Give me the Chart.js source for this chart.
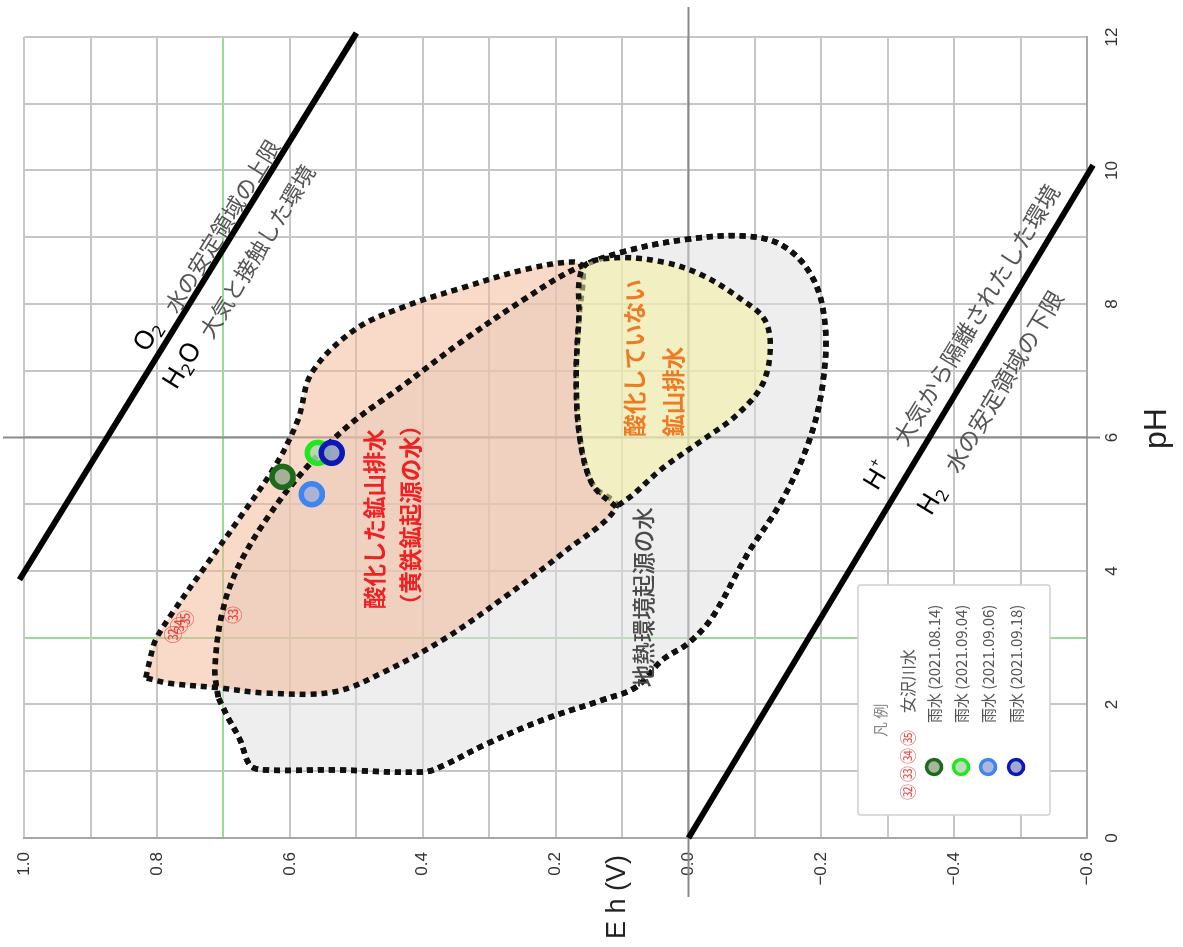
<!DOCTYPE html>
<html>
<head>
<meta charset="utf-8">
<script src="https://cdn.jsdelivr.net/npm/chart.js@4.4.1/dist/chart.umd.min.js"></script>
<style>
  html, body { margin: 0; padding: 0; width: 1183px; height: 947px; overflow: hidden; background: #fff; }
  /* The diagram is laid out in portrait (pH across, Eh up) and turned a quarter turn counter-clockwise */
  #wrap { position: absolute; left: 0; top: 0; width: 947px; height: 1183px;
          transform-origin: 0 0; transform: translate(0, 947px) rotate(-90deg); }
</style>
</head>
<body>
<div id="wrap"><canvas id="c" width="947" height="1183"></canvas></div>
<script>
// ---- axes ----
const phTickValues = [0, 2, 4, 6, 8, 10, 12];
const phTickLabels = ['0', '2', '4', '6', '8', '10', '12'];
const ehTickValues = [1.0, 0.8, 0.6, 0.4, 0.2, 0.0, -0.2, -0.4, -0.6];
const ehTickLabels = ['1.0', '0.8', '0.6', '0.4', '0.2', '0.0', '\u22120.2', '\u22120.4', '\u22120.6'];

// ---- stability limits of water ----
const o2LinePH = [3.87, 12.06];
const o2LineEh = [1.007, 0.500];
const h2LinePH = [0.0, 10.08];
const h2LineEh = [0.0, -0.609];

// ---- fields (closed outlines) ----
// 酸化した鉱山排水（黄鉄鉱起源の水）
const acidPH = [2.40, 2.70, 2.97, 3.37, 4.06, 4.76, 5.56, 6.26, 6.97, 7.61, 7.96, 8.25, 8.51, 8.63, 8.54, 7.76, 6.86, 5.96, 5.29, 4.96, 4.27, 3.60, 2.98, 2.49, 2.19, 2.17, 2.25, 2.32, 2.40];
const acidEh = [0.817, 0.810, 0.802, 0.777, 0.728, 0.678, 0.623, 0.588, 0.567, 0.503, 0.428, 0.338, 0.249, 0.174, 0.159, 0.165, 0.169, 0.163, 0.144, 0.109, 0.189, 0.278, 0.368, 0.458, 0.533, 0.633, 0.708, 0.783, 0.817];
// 地熱環境起源の水
const geoPH = [2.11, 2.52, 3.37, 4.06, 4.81, 5.47, 6.16, 6.79, 7.46, 8.06, 8.51, 8.78, 8.96, 9.02, 8.88, 8.43, 7.76, 6.86, 5.96, 5.06, 4.24, 3.31, 2.92, 2.67, 2.26, 2.07, 1.77, 1.39, 1.09, 0.99, 1.02, 1.02, 1.09, 1.47, 1.84, 2.11];
const geoEh = [0.708, 0.713, 0.702, 0.678, 0.633, 0.582, 0.514, 0.428, 0.338, 0.249, 0.174, 0.099, 0.009, -0.081, -0.141, -0.185, -0.205, -0.203, -0.182, -0.141, -0.088, -0.036, 0.000, 0.039, 0.079, 0.129, 0.219, 0.308, 0.368, 0.398, 0.533, 0.638, 0.660, 0.675, 0.695, 0.708];
// 酸化していない鉱山排水
const neutralPH = [4.96, 5.29, 5.96, 6.86, 7.76, 8.54, 8.69, 8.63, 8.43, 8.06, 7.76, 7.31, 6.79, 6.34, 5.96, 5.54, 5.14, 4.96];
const neutralEh = [0.109, 0.144, 0.163, 0.169, 0.165, 0.159, 0.114, 0.039, -0.021, -0.081, -0.115, -0.123, -0.111, -0.073, -0.021, 0.039, 0.084, 0.109];

// ---- samples ----
const rainLabels = ['雨水 (2021.08.14)', '雨水 (2021.09.04)', '雨水 (2021.09.06)', '雨水 (2021.09.18)'];
const rainPH = [5.41, 5.77, 5.15, 5.77];
const rainEh = [0.611, 0.558, 0.567, 0.537];

const riverLabel = '女沢川水';
const riverMarks = ['㉜', '㉞', '㉟', '㉝'];
const riverPH = [3.05, 3.18, 3.28, 3.34];
const riverEh = [0.776, 0.766, 0.757, 0.686];
const riverLegendMarks = ['㉜', '㉝', '㉞', '㉟'];

// ---- styling ----
const rainBorder = ['#1d6a1d', '#22e622', '#3d86f2', '#0c18b4'];
const rainFill = ['rgba(150,170,140,0.85)', 'rgba(175,215,170,0.85)', 'rgba(165,175,215,0.9)', 'rgba(150,160,200,0.9)'];
const JP = "'Noto Sans CJK JP', 'Noto Sans', sans-serif";
const LAT = "'Liberation Sans', Arial, sans-serif";

const pts = (xs, ys) => xs.map((v, i) => ({ x: v, y: ys[i] }));

function fieldDataset(xs, ys, fill, order) {
  return {
    data: pts(xs, ys), fill: fill ? 'shape' : false, backgroundColor: fill || 'transparent',
    borderColor: '#111', borderWidth: 5.5, borderDash: [6, 5], borderCapStyle: 'butt',
    tension: 0.35, pointRadius: 0, order: order
  };
}

const datasets = [
  fieldDataset(geoPH, geoEh, 'rgba(222,222,222,0.5)', 40),
  fieldDataset(acidPH, acidEh, 'rgba(244,180,144,0.5)', 30),
  fieldDataset(geoPH, geoEh, null, 25),          // outline of the geothermal field kept visible over the acid field
  fieldDataset(neutralPH, neutralEh, 'rgba(246,241,160,0.55)', 20),
  { data: pts(o2LinePH, o2LineEh), borderColor: '#000', borderWidth: 6, pointRadius: 0, fill: false, clip: false, order: 10 },
  { data: pts(h2LinePH, h2LineEh), borderColor: '#000', borderWidth: 6, pointRadius: 0, fill: false, clip: false, order: 10 }
];
rainPH.forEach((p, i) => {
  datasets.push({
    label: rainLabels[i], data: [{ x: p, y: rainEh[i] }], showLine: false,
    pointRadius: 10.5, pointBorderWidth: 5.5, pointBackgroundColor: rainFill[i],
    pointBorderColor: rainBorder[i], order: 4 - i
  });
});

const GRID = '#c6c6c6', GREEN = '#97dc97';

// text placed along the two water lines
const lineNotes = [
  { line: 'o2', ph: 7.18, off: 18,  parts: [['O', 26], ['2', 17, 7]], color: '#000' },
  { line: 'o2', ph: 7.80, off: 13,  parts: [['水の安定領域の上限', 22]], color: '#555' },
  { line: 'o2', ph: 6.97, off: -27, parts: [['H', 26], ['2', 17, 7], ['O', 26]], color: '#000' },
  { line: 'o2', ph: 7.76, off: -30, parts: [['大気と接触した環境', 22]], color: '#555' },
  { line: 'h2', ph: 5.06, off: 24,  parts: [['H', 26], ['+', 15, -9]], color: '#000' },
  { line: 'h2', ph: 5.74, off: 23,  parts: [['大気から隔離されたした環境', 23]], color: '#555' },
  { line: 'h2', ph: 5.14, off: -35, parts: [['H', 26], ['2', 17, 7]], color: '#000' },
  { line: 'h2', ph: 5.78, off: -35, parts: [['水の安定領域の下限', 23]], color: '#555' }
];

// field captions: [text, pH, Eh, align, colour]
const fieldNotes = [
  ['酸化した鉱山排水', 4.78, 0.473, 'center', '#ee2222'],
  ['（黄鉄鉱起源の水）', 4.84, 0.418, 'center', '#ee2222'],
  ['酸化していない', 6.01, 0.082, 'left', '#ee7a22'],
  ['鉱山排水', 6.01, 0.023, 'left', '#ee7a22'],
  ['地熱環境起源の水', 2.26, 0.067, 'left', '#4a4a4a']
];

function drawParts(ctx, parts, x, y, family) {
  let cx = x;
  parts.forEach(([t, size, dy]) => {
    ctx.font = size + 'px ' + family;
    ctx.fillText(t, cx, y + (dy || 0));
    cx += ctx.measureText(t).width;
  });
}

const overlay = {
  id: 'overlay',
  beforeDatasetsDraw(chart) {
    const { ctx, scales: { x, y } } = chart;
    ctx.save();
    ctx.strokeStyle = '#8a8a8a';
    ctx.lineWidth = 2;
    const px = x.getPixelForValue(6);
    ctx.beginPath(); ctx.moveTo(px, 3); ctx.lineTo(px, 1100); ctx.stroke();
    const py = y.getPixelForValue(0);
    ctx.beginPath(); ctx.moveTo(50, py); ctx.lineTo(940, py); ctx.stroke();
    ctx.restore();
  },
  afterDatasetsDraw(chart) {
    const { ctx, scales: { x, y } } = chart;
    ctx.save();

    // river samples (stamped numbers)
    ctx.textAlign = 'center';
    ctx.textBaseline = 'middle';
    ctx.fillStyle = 'rgba(228,50,50,0.85)';
    ctx.font = '18px ' + JP;
    riverMarks.forEach((m, i) => ctx.fillText(m, x.getPixelForValue(riverPH[i]), y.getPixelForValue(riverEh[i])));

    // field captions
    fieldNotes.forEach(([t, p, e, al, col]) => {
      ctx.textAlign = al;
      ctx.fillStyle = col;
      ctx.font = (col === '#4a4a4a' ? '500 ' : 'bold ') + '22.5px ' + JP;
      ctx.fillText(t, x.getPixelForValue(p), y.getPixelForValue(e));
    });

    // notes along the water lines
    const lines = { o2: [o2LinePH, o2LineEh], h2: [h2LinePH, h2LineEh] };
    lineNotes.forEach(n => {
      const [ps, es] = lines[n.line];
      const x1 = x.getPixelForValue(ps[0]), y1 = y.getPixelForValue(es[0]);
      const x2 = x.getPixelForValue(ps[1]), y2 = y.getPixelForValue(es[1]);
      const ang = Math.atan2(y2 - y1, x2 - x1);
      const t = (n.ph - ps[0]) / (ps[1] - ps[0]);
      const bx = x1 + (x2 - x1) * t, by = y1 + (y2 - y1) * t;
      ctx.save();
      ctx.translate(bx + Math.sin(ang) * n.off, by - Math.cos(ang) * n.off);
      ctx.rotate(ang);
      ctx.textAlign = 'left';
      ctx.textBaseline = 'middle';
      ctx.fillStyle = n.color;
      drawParts(ctx, n.parts, 0, 0, n.color === '#000' ? "'Noto Sans', sans-serif" : JP);
      ctx.restore();
    });
    ctx.restore();
  },
  afterDraw(chart) {
    const { ctx, chartArea: a } = chart;
    ctx.save();

    // axis titles
    ctx.fillStyle = '#222';
    ctx.textAlign = 'center';
    ctx.textBaseline = 'middle';
    ctx.font = '32px ' + LAT;
    ctx.fillText('pH', (a.left + a.right) / 2 + 9, 1157);
    ctx.font = '27px ' + LAT;
    ctx.fillText('E h (V)', 50, 618);

    // legend box
    const L = a.left + 23, T = a.bottom - 229, W = 230, H = 192;
    ctx.fillStyle = '#fff';
    ctx.strokeStyle = '#cfcfcf';
    ctx.lineWidth = 1.5;
    ctx.beginPath();
    ctx.roundRect(L, T, W, H, 3);
    ctx.fill(); ctx.stroke();

    ctx.textAlign = 'left';
    ctx.fillStyle = '#888';
    ctx.font = '15px ' + JP;
    ctx.fillText('凡 例', L + 78, T + 22);

    ctx.textAlign = 'center';
    ctx.fillStyle = 'rgba(228,50,50,0.85)';
    ctx.font = '16px ' + JP;
    riverLegendMarks.forEach((m, i) => ctx.fillText(m, L + 23 + i * 18, T + 50));
    ctx.textAlign = 'left';
    ctx.fillStyle = '#555';
    ctx.font = '16px ' + JP;
    ctx.fillText(riverLabel, L + 102, T + 50);

    const rows = [T + 76, T + 103, T + 130, T + 158];
    rainLabels.forEach((lab, i) => {
      ctx.beginPath();
      ctx.arc(L + 48, rows[i], 7.5, 0, Math.PI * 2);
      ctx.fillStyle = rainFill[i];
      ctx.fill();
      ctx.lineWidth = 3.5;
      ctx.strokeStyle = rainBorder[i];
      ctx.stroke();
      ctx.fillStyle = '#555';
      ctx.font = '15px ' + JP;
      ctx.fillText(lab, L + 92, rows[i]);
    });
    ctx.restore();
  }
};

new Chart(document.getElementById('c'), {
  type: 'line',
  data: { datasets },
  options: {
    responsive: false,
    devicePixelRatio: 1,
    animation: false,
    layout: { padding: { top: 18, right: 37, left: 0, bottom: 0 } },
    plugins: { legend: { display: false }, tooltip: { enabled: false } },
    scales: {
      x: {
        type: 'linear', position: 'bottom', min: 0, max: 12,
        afterFit: s => { s.height = 96; },
        ticks: {
          stepSize: 1, autoSkip: false, maxRotation: 0, padding: 15,
          color: '#333', font: { size: 17, family: LAT },
          callback: v => { const k = phTickValues.indexOf(v); return k < 0 ? '' : phTickLabels[k]; }
        },
        grid: { drawTicks: false, lineWidth: 2, color: c => (c.tick && c.tick.value === 3 ? GREEN : GRID) },
        border: { color: '#a8a8a8', width: 2 }
      },
      y: {
        type: 'linear', min: -0.6, max: 1.0,
        afterFit: s => { s.width = 109; },
        ticks: {
          stepSize: 0.1, autoSkip: false, padding: 14,
          color: '#333', font: { size: 17, family: LAT },
          callback: v => {
            const k = ehTickValues.findIndex(t => Math.abs(t - v) < 1e-6);
            return k < 0 ? '' : ehTickLabels[k];
          }
        },
        grid: { drawTicks: false, lineWidth: 2, color: c => (c.tick && Math.abs(c.tick.value - 0.7) < 1e-6 ? GREEN : GRID) },
        border: { color: '#a8a8a8', width: 2 }
      }
    }
  },
  plugins: [overlay]
});
</script>
</body>
</html>
